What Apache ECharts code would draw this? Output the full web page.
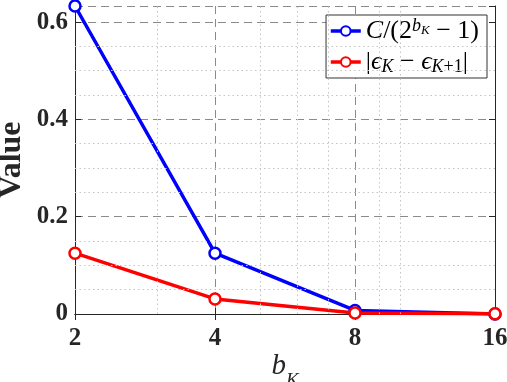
<!DOCTYPE html>
<html>
<head>
<meta charset="utf-8">
<script src="https://cdn.jsdelivr.net/npm/echarts@6/dist/echarts.min.js"></script>
<style>
  html, body { margin: 0; padding: 0; background: #fff; }
  #chart { width: 507px; height: 382px; }
</style>
</head>
<body>
<div id="chart"></div>
<script>
var bits = [2, 4, 8, 16];
var quantStep = [0.633, 0.125, 0.0074, 0.00003];
var epsDiff = [0.125, 0.031, 0.002, 0.0003];
var xMinorGrid = [3, 5, 6, 7, 9, 10];
var yMinorGrid = [0.05, 0.1, 0.15, 0.25, 0.3, 0.35, 0.45, 0.5, 0.55];

var serif = "'Liberation Serif', 'DejaVu Serif', serif";
var txt = '#262626';

var chart = echarts.init(document.getElementById('chart'));

function pairs(ys) {
    return bits.map(function (b, i) { return [b, ys[i]]; });
}

var option = {
    backgroundColor: '#fff',
    animation: false,
    grid: { left: 75, right: 12, top: 6, bottom: 68, outerBoundsMode: 'none', containLabel: false },
    legend: {
        data: ['blue', 'red'],
        orient: 'vertical',
        right: 20,
        top: 15,
        itemWidth: 30,
        itemHeight: 12,
        itemGap: 3,
        padding: [2, 8, 2, 3],
        backgroundColor: '#fff',
        borderColor: '#333',
        borderWidth: 1,
        borderRadius: 0,
        lineStyle: { width: 3.5 },
        formatter: function (name) {
            if (name === 'blue') {
                return '{it|C}{rm|/(2}{sup|b}{ssub|K}{rm| − 1)}';
            }
            return '{rm||}{it|ϵ}{sub|K}{rm| − }{it|ϵ}{sub|K}{subr|+1}{rm||}';
        },
        textStyle: {
            fontFamily: serif,
            fontSize: 26,
            color: '#000',
            lineHeight: 28,
            rich: {
                it: { fontFamily: serif, fontStyle: 'italic', fontSize: 26, color: '#000' },
                rm: { fontFamily: serif, fontSize: 26, color: '#000' },
                sup: { fontFamily: serif, fontStyle: 'italic', fontSize: 18, verticalAlign: 'top', color: '#000' },
                ssub: { fontFamily: serif, fontStyle: 'italic', fontSize: 13, verticalAlign: 'top', padding: [7, 0, 0, 0], color: '#000' },
                sub: { fontFamily: serif, fontStyle: 'italic', fontSize: 18, verticalAlign: 'bottom', color: '#000' },
                subr: { fontFamily: serif, fontSize: 18, verticalAlign: 'bottom', color: '#000' }
            }
        }
    },
    xAxis: [{
        type: 'log',
        logBase: 2,
        min: 2,
        max: 16,
        name: '{b|b}{k|K}',
        nameLocation: 'middle',
        nameGap: 38,
        nameMoveOverlap: false,
        nameTextStyle: {
            rich: {
                b: { fontFamily: serif, fontStyle: 'italic', fontSize: 29, color: txt },
                k: { fontFamily: serif, fontStyle: 'italic', fontSize: 19, color: txt, verticalAlign: 'bottom', padding: [0, 0, -9, 0] }
            }
        },
        axisLine: { show: true, lineStyle: { color: '#262626', width: 1 } },
        axisTick: { show: true, inside: true, length: 6, lineStyle: { color: '#262626' } },
        axisLabel: { fontFamily: serif, fontWeight: 'bold', fontSize: 25, color: txt, margin: 12 },
        splitLine: { show: true, lineStyle: { color: '#8a8a8a', type: [8, 5], width: 1 } }
    }, {
        type: 'log',
        logBase: 2,
        min: 2,
        max: 16,
        position: 'top',
        axisLine: { show: true, lineStyle: { color: '#262626', width: 1 } },
        axisTick: { show: true, inside: true, length: 6, lineStyle: { color: '#262626' } },
        axisLabel: { show: false },
        splitLine: { show: false }
    }],
    yAxis: [{
        type: 'value',
        min: 0,
        max: 0.633,
        interval: 0.2,
        name: 'Value',
        nameLocation: 'middle',
        nameGap: 47,
        nameMoveOverlap: false,
        nameTextStyle: { fontFamily: serif, fontWeight: 'bold', fontSize: 32, color: txt },
        axisLine: { show: true, lineStyle: { color: '#262626', width: 1 } },
        axisTick: { show: true, inside: true, length: 6, lineStyle: { color: '#262626' } },
        axisLabel: {
            fontFamily: serif, fontWeight: 'bold', fontSize: 25, color: txt, margin: 7,
            showMaxLabel: false,
            formatter: function (v) { return v === 0 ? '0' : v.toFixed(1); }
        },
        splitLine: { show: true, lineStyle: { color: '#8a8a8a', type: [8, 5], width: 1 } }
    }, {
        type: 'value',
        min: 0,
        max: 0.633,
        interval: 0.2,
        position: 'right',
        axisLine: { show: true, lineStyle: { color: '#262626', width: 1 } },
        axisTick: { show: true, inside: true, length: 6, lineStyle: { color: '#262626' } },
        axisLabel: { show: false },
        splitLine: { show: false }
    }],
    series: [
        {
            name: 'minor',
            type: 'line',
            data: pairs(epsDiff),
            showSymbol: false,
            lineStyle: { opacity: 0 },
            silent: true,
            z: 1,
            markLine: {
                silent: true,
                symbol: 'none',
                label: { show: false },
                lineStyle: { color: '#c4c4c4', type: [1.5, 3], width: 1 },
                data: xMinorGrid.map(function (v) { return { xAxis: v }; })
                    .concat(yMinorGrid.map(function (v) { return { yAxis: v }; }))
            }
        },
        {
            name: 'blue',
            type: 'line',
            data: pairs(quantStep),
            symbol: 'circle',
            symbolSize: 11,
            z: 3,
            lineStyle: { color: '#0000ff', width: 3.5 },
            itemStyle: { color: '#fff', borderColor: '#0000ff', borderWidth: 2.5 }
        },
        {
            name: 'red',
            type: 'line',
            data: pairs(epsDiff),
            symbol: 'circle',
            symbolSize: 11,
            z: 4,
            lineStyle: { color: '#ff0000', width: 3.5 },
            itemStyle: { color: '#fff', borderColor: '#ff0000', borderWidth: 2.5 }
        }
    ]
};

chart.setOption(option);
</script>
</body>
</html>
